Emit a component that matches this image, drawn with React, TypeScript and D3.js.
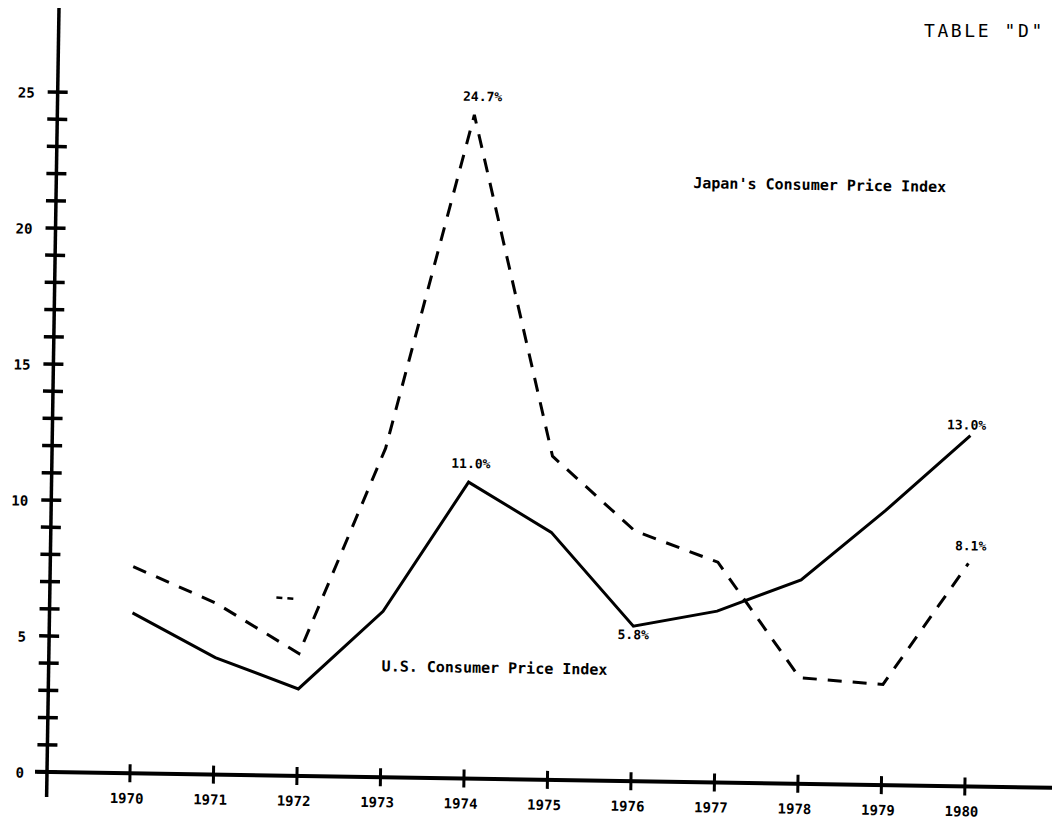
import { useRef, useEffect } from "react";
import * as d3 from "d3";

// Annual change in consumer prices (%)
const years = [1970, 1971, 1972, 1973, 1974, 1975, 1976, 1977, 1978, 1979, 1980];
const usCpi = [5.9, 4.3, 3.2, 6.1, 10.9, 9.1, 5.7, 6.3, 7.5, 10.1, 12.9];
const japanCpi = [7.6, 6.3, 4.5, 12.1, 24.4, 11.9, 9.2, 8.1, 3.9, 3.7, 8.2];

// stray pen mark left of the 1972 dip
const strayYears = [1971.72, 1971.98];
const strayValues = [6.55, 6.5];

const yTickLabels = [0, 5, 10, 15, 20, 25];

const annotationSeries = ["japan", "us", "us", "us", "japan"];
const annotationYears = [1974, 1974, 1976, 1980, 1980];
const annotationTexts = ["24.7%", "11.0%", "5.8%", "13.0%", "8.1%"];

const seriesLabels = ["Japan's Consumer Price Index", "U.S. Consumer Price Index"];
const title = 'TABLE "D"';

const W = 1052;
const H = 828;
const FONT = "'DejaVu Sans Mono', 'Liberation Mono', monospace";

export default function App() {
  const svgRef = useRef<SVGSVGElement>(null);

  useEffect(() => {
    if (!svgRef.current) return;
    const svg = d3.select(svgRef.current);
    svg.selectAll("*").remove();

    svg.append("rect").attr("width", W).attr("height", H).attr("fill", "#fff");

    const originX = 47;
    const originY = 772;

    const x = d3.scaleLinear().domain([1970, 1980]).range([130, 965]);
    const y = d3.scaleLinear().domain([0, 25]).range([originY, 92]);

    // the scan is tilted slightly clockwise
    const g = svg.append("g").attr("transform", `rotate(0.9, ${originX}, ${originY})`);

    // y axis
    g.append("line")
      .attr("x1", originX).attr("x2", originX)
      .attr("y1", 8).attr("y2", 797)
      .attr("stroke", "#000").attr("stroke-width", 3.5);

    g.selectAll(".ytick")
      .data(y.ticks(25))
      .join("line")
      .attr("x1", originX - 10).attr("x2", originX + 10)
      .attr("y1", d => y(d)).attr("y2", d => y(d))
      .attr("stroke", "#000").attr("stroke-width", 3.5);

    g.selectAll(".ylab")
      .data(yTickLabels)
      .join("text")
      .attr("x", originX - 23)
      .attr("y", d => y(d) + 6)
      .attr("text-anchor", "end")
      .attr("font-family", FONT)
      .attr("font-weight", "bold")
      .attr("font-size", 14)
      .text(d => d);

    // x axis
    g.append("line")
      .attr("x1", 35).attr("x2", 1070)
      .attr("y1", originY).attr("y2", originY)
      .attr("stroke", "#000").attr("stroke-width", 4);

    g.selectAll(".xtick")
      .data(years)
      .join("line")
      .attr("x1", d => x(d)).attr("x2", d => x(d))
      .attr("y1", originY - 9).attr("y2", originY + 9)
      .attr("stroke", "#000").attr("stroke-width", 3);

    g.selectAll(".xlab")
      .data(years)
      .join("text")
      .attr("x", d => x(d) - 3)
      .attr("y", originY + 30)
      .attr("text-anchor", "middle")
      .attr("font-family", FONT)
      .attr("font-weight", "bold")
      .attr("font-size", 14)
      .text(d => d);

    const line = d3.line<number>()
      .x((_, i) => x(years[i]))
      .y(d => y(d));

    // Japan (dashed)
    g.append("path")
      .datum(japanCpi)
      .attr("fill", "none")
      .attr("stroke", "#000")
      .attr("stroke-width", 3)
      .attr("stroke-dasharray", "14,11")
      .attr("stroke-linejoin", "miter")
      .attr("d", line);

    // US (solid)
    g.append("path")
      .datum(usCpi)
      .attr("fill", "none")
      .attr("stroke", "#000")
      .attr("stroke-width", 3)
      .attr("d", line);

    // stray mark
    g.append("path")
      .datum(strayValues)
      .attr("fill", "none")
      .attr("stroke", "#000")
      .attr("stroke-width", 2.5)
      .attr("stroke-dasharray", "6,5")
      .attr("d", d3.line<number>().x((_, i) => x(strayYears[i])).y(d => y(d)));

    // value annotations
    const offsets: Record<string, [number, number]> = {
      "24.7%": [8, -14],
      "11.0%": [2, -14],
      "5.8%": [0, 13],
      "13.0%": [-4, -6],
      "8.1%": [2, -13],
    };
    annotationTexts.forEach((t, i) => {
      const vals = annotationSeries[i] === "us" ? usCpi : japanCpi;
      const v = vals[years.indexOf(annotationYears[i])];
      const [dx, dy] = offsets[t];
      g.append("text")
        .attr("x", x(annotationYears[i]) + dx)
        .attr("y", y(v) + dy)
        .attr("text-anchor", "middle")
        .attr("font-family", FONT)
        .attr("font-weight", "bold")
        .attr("font-size", 13)
        .text(t);
    });

    // series labels
    g.append("text")
      .attr("x", 684).attr("y", 178)
      .attr("font-family", FONT)
      .attr("font-weight", "bold")
      .attr("font-size", 15)
      .text(seriesLabels[0]);

    g.append("text")
      .attr("x", 380).attr("y", 666)
      .attr("font-family", FONT)
      .attr("font-weight", "bold")
      .attr("font-size", 15)
      .text(seriesLabels[1]);

    svg.append("text")
      .attr("x", 924).attr("y", 37)
      .attr("font-family", FONT)
      .attr("font-size", 18)
      .attr("letter-spacing", 2.6)
      .text(title);
  }, []);

  return (
    <svg
      ref={svgRef}
      width={W}
      height={H}
      style={{ position: "absolute", left: 0, top: 0, display: "block" }}
    />
  );
}
